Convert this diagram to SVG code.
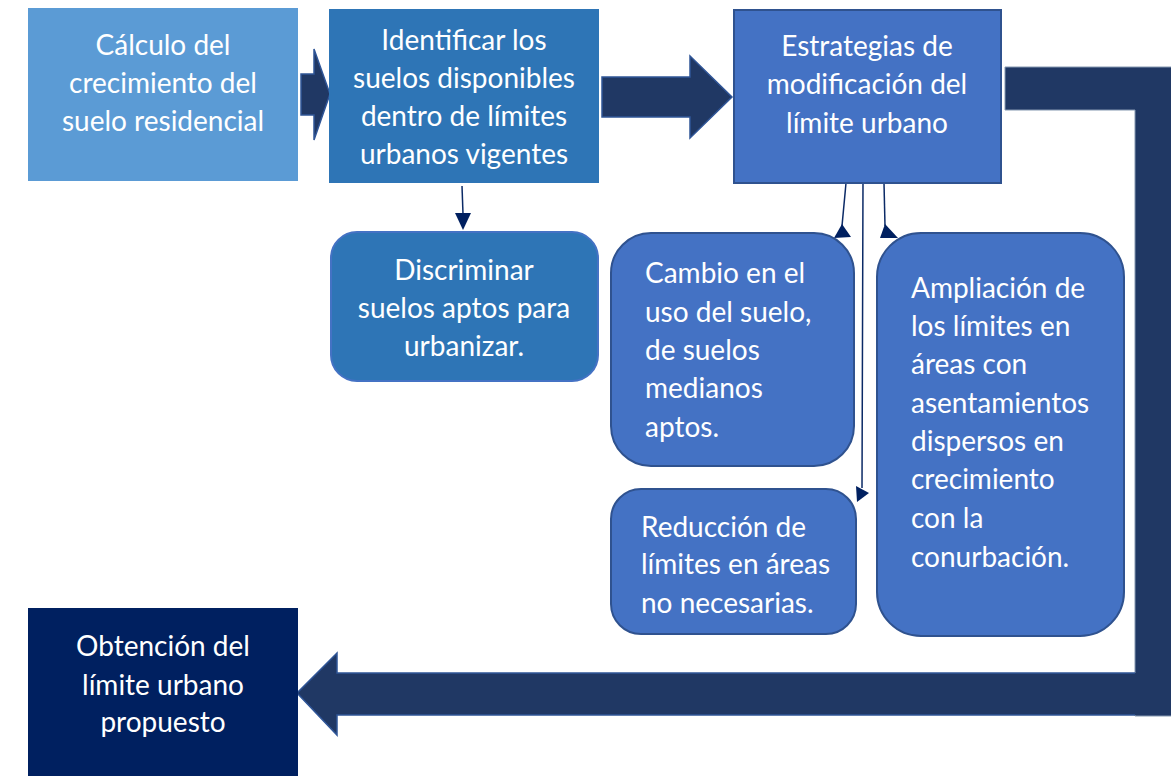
<svg xmlns="http://www.w3.org/2000/svg" width="1171" height="776" viewBox="0 0 1171 776">
<style>
  .t { font-family: Lato, "Open Sans", "Liberation Sans", sans-serif; font-size: 28px; fill: #ffffff; }
  .c { text-anchor: middle; }
  .bigarrow { fill: #203864; stroke: #2F5597; stroke-width: 1.5; }
  .rbox { fill: #4472C4; stroke: #2F528F; stroke-width: 2; }
  .conn { fill: none; stroke: #0B2A66; stroke-width: 1.5; }
  .head { fill: #002060; }
</style>
<rect x="0" y="0" width="1171" height="776" fill="#ffffff"/>

<g id="connectors">
  <!-- block arrow 1 -->
  <polygon class="bigarrow" points="301,74 314,74 314,49 330,94 314,140 314,115 301,115"/>
  <!-- block arrow 2 -->
  <polygon class="bigarrow" points="602,77 690,77 690,56 732,97 690,138 690,117 602,117"/>
  <!-- bent bar -->
  <polygon fill="#203864" stroke="#8497B0" stroke-width="1" points="1005,67 1172,67 1172,716 1135,716 1135,110 1005,110"/>
  <!-- bottom return arrow -->
  <polygon fill="#203864" points="1136,673 337,673 337,653 297,693 337,735 337,715 1136,715"/>
  <polyline fill="none" stroke="#2F5597" stroke-width="1.5" points="1135,673 337,673 337,653 297,693 337,735 337,715 1135,715"/>
  <!-- thin connectors -->
  <path class="conn" d="M462,186 L463,214"/>
  <polygon class="head" points="455,213 471,213 463,230"/>
  <path class="conn" d="M846,183 L842,226"/>
  <polygon class="head" points="842,224 834,238 851,237"/>
  <path class="conn" d="M884,183 L885,226"/>
  <polygon class="head" points="885,224 880,238 898,238"/>
  <path class="conn" d="M870,184 L870,181 L863,181 L862,488"/>
  <polygon class="head" points="856,486 869,493 857,502"/>
</g>

<g id="node-calculo">
  <rect x="28" y="8" width="270" height="173" fill="#5B9BD5"/>
  <text class="t c" x="163" y="55">Cálculo del</text>
  <text class="t c" x="163" y="93">crecimiento del</text>
  <text class="t c" x="163" y="131">suelo residencial</text>
</g>

<g id="node-identificar">
  <rect x="329" y="9" width="270" height="174" fill="#2E75B6"/>
  <text class="t c" x="464" y="50">Identificar los</text>
  <text class="t c" x="464" y="88">suelos disponibles</text>
  <text class="t c" x="464" y="126">dentro de límites</text>
  <text class="t c" x="464" y="164">urbanos vigentes</text>
</g>

<g id="node-estrategias">
  <rect x="734" y="10" width="267" height="173" fill="#4472C4" stroke="#2F528F" stroke-width="2"/>
  <text class="t c" x="867" y="56">Estrategias de</text>
  <text class="t c" x="867" y="94">modificación del</text>
  <text class="t c" x="867" y="133">límite urbano</text>
</g>

<g id="node-discriminar">
  <rect x="331" y="232" width="267" height="149" rx="26" fill="#2E75B6" stroke="#4472C4" stroke-width="2"/>
  <text class="t c" x="464" y="280">Discriminar</text>
  <text class="t c" x="464" y="318">suelos aptos para</text>
  <text class="t c" x="464" y="356">urbanizar.</text>
</g>

<g id="node-cambio">
  <rect class="rbox" x="611" y="233" width="243" height="233" rx="40"/>
  <text class="t" x="645" y="283">Cambio en el</text>
  <text class="t" x="645" y="322">uso del suelo,</text>
  <text class="t" x="645" y="360">de suelos</text>
  <text class="t" x="645" y="398">medianos</text>
  <text class="t" x="645" y="437">aptos.</text>
</g>

<g id="node-ampliacion">
  <rect class="rbox" x="877" y="233" width="247" height="403" rx="44"/>
  <text class="t" x="911" y="298">Ampliación de</text>
  <text class="t" x="911" y="336">los límites en</text>
  <text class="t" x="911" y="374">áreas con</text>
  <text class="t" x="911" y="413">asentamientos</text>
  <text class="t" x="911" y="451">dispersos en</text>
  <text class="t" x="911" y="489">crecimiento</text>
  <text class="t" x="911" y="528">con la</text>
  <text class="t" x="911" y="567">conurbación.</text>
</g>

<g id="node-reduccion">
  <rect class="rbox" x="611" y="489" width="245" height="145" rx="30"/>
  <text class="t" x="641" y="537">Reducción de</text>
  <text class="t" x="641" y="574">límites en áreas</text>
  <text class="t" x="641" y="613">no necesarias.</text>
</g>

<g id="node-obtencion">
  <rect x="28" y="608" width="270" height="168" fill="#002060"/>
  <text class="t c" x="163" y="656">Obtención del</text>
  <text class="t c" x="163" y="695">límite urbano</text>
  <text class="t c" x="163" y="732">propuesto</text>
</g>
</svg>
